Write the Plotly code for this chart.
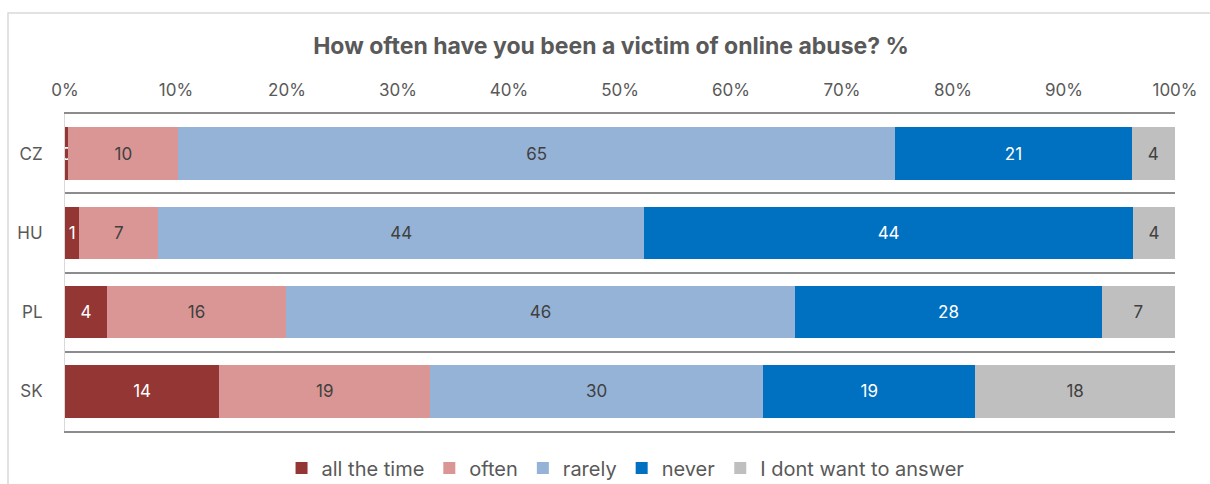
import plotly.graph_objects as go

# Survey results, share of respondents per answer (%)
countries = ["CZ", "HU", "PL", "SK"]
all_the_time = [0.3, 1.3, 3.8, 13.9]
often = [9.9, 7.1, 16.1, 19.0]
rarely = [64.6, 43.8, 45.9, 30.0]
never = [21.3, 44.0, 27.6, 19.1]
no_answer = [3.9, 3.8, 6.6, 18.0]

series = [
    ("all the time", all_the_time, "#943634", "white"),
    ("often", often, "#DA9694", "#404040"),
    ("rarely", rarely, "#95B3D7", "#404040"),
    ("never", never, "#0070C0", "white"),
    ("I dont want to answer", no_answer, "#BFBFBF", "#404040"),
]

FONT = "Inter, Open Sans, sans-serif"

fig = go.Figure()
for name, vals, color, tcolor in series:
    fig.add_trace(go.Bar(
        y=countries, x=vals, name=name, orientation="h",
        marker=dict(color=color, line=dict(width=0)),
        text=vals, texttemplate="%{x:.0f}",
        textposition="inside", insidetextanchor="middle",
        constraintext="none",
        textfont=dict(color=tcolor, size=17, family=FONT),
        hoverinfo="skip",
    ))

W, H = 1210, 484
L, R, T, B = 65, 35, 114, 53
pw, ph = W - L - R, H - T - B

fig.update_layout(
    width=W, height=H,
    barmode="stack", bargap=0.34,
    paper_bgcolor="white", plot_bgcolor="white",
    margin=dict(l=L, r=R, t=T, b=B, autoexpand=False),
    title=dict(
        text="<b>How often have you been a victim of online abuse? %</b>",
        x=0.505, xanchor="center", y=0.905, yanchor="middle",
        font=dict(size=23, color="#595959", family=FONT),
    ),
    xaxis=dict(
        side="top", range=[0, 100], dtick=10, ticksuffix="%",
        showgrid=False, zeroline=False,
        showline=True, mirror=True, linecolor="#8C8C8C", linewidth=1.5,
        ticks="", tickfont=dict(size=17, color="#595959", family=FONT),
        ticklabelstandoff=9, fixedrange=True,
    ),
    yaxis=dict(
        autorange="reversed", tickson="boundaries",
        showgrid=True, gridcolor="#8C8C8C", gridwidth=1.5,
        showline=True, linecolor="#D9D9D9", linewidth=1,
        ticks="", ticklabelstandoff=18,
        tickfont=dict(size=17, color="#595959", family=FONT),
    ),
    legend=dict(
        orientation="h", x=0.505, xanchor="center",
        yref="container", y=16 / H, yanchor="middle",
        font=dict(size=20, color="#595959", family=FONT),
        itemwidth=30, traceorder="normal",
    ),
    showlegend=True,
    shapes=[dict(
        type="rect", xref="paper", yref="paper",
        x0=(8 - L) / pw, x1=(W + 60 - L) / pw,
        y0=-(B + 60) / ph, y1=1 + (T - 13) / ph,
        line=dict(color="#D9D9D9", width=1.5), fillcolor="rgba(0,0,0,0)",
        layer="below",
    )],
)

fig.write_html("out.html")
